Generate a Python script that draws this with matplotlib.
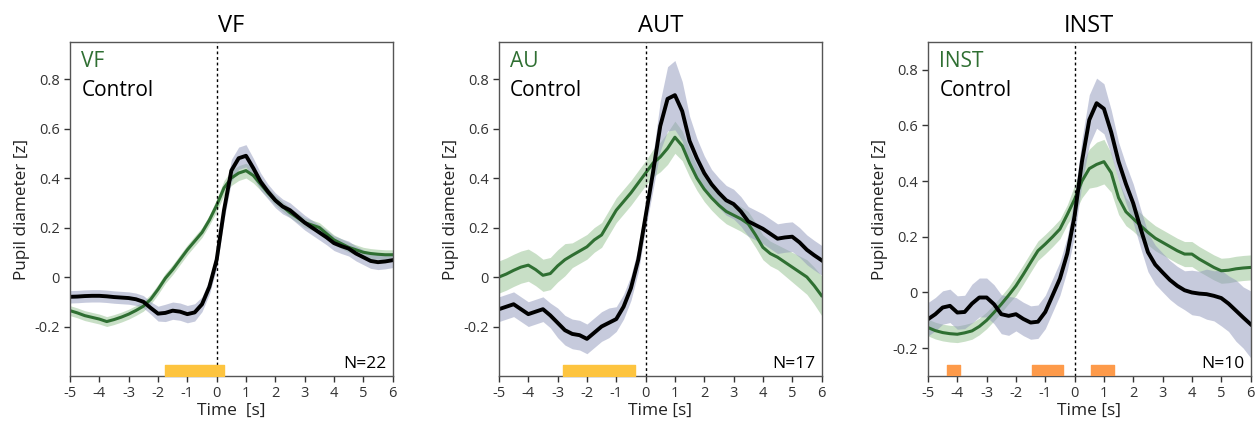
import numpy as np
import matplotlib
matplotlib.use("Agg")
import matplotlib.pyplot as plt

plt.rcParams['font.family'] = ['Open Sans', 'DejaVu Sans']

# time axis, 0.25 s steps
t = np.arange(-5, 6.001, 0.25)

# --- VF panel ---
vf_task = [-0.136, -0.145, -0.156, -0.163, -0.17, -0.18, -0.172, -0.162, -0.15, -0.135,
           -0.118, -0.09, -0.05, -0.005, 0.03, 0.07, 0.11, 0.145, 0.18, 0.23,
           0.29, 0.36, 0.40, 0.42, 0.43, 0.41, 0.375, 0.34, 0.31, 0.285,
           0.26, 0.24, 0.22, 0.21, 0.20, 0.175, 0.15, 0.135, 0.12, 0.11,
           0.10, 0.095, 0.092, 0.09, 0.09]
vf_ctrl = [-0.08, -0.079, -0.077, -0.076, -0.076, -0.078, -0.081, -0.083, -0.085, -0.09,
           -0.10, -0.125, -0.148, -0.145, -0.136, -0.14, -0.15, -0.143, -0.11, -0.04,
           0.07, 0.27, 0.43, 0.48, 0.49, 0.44, 0.385, 0.345, 0.31, 0.285,
           0.27, 0.245, 0.22, 0.20, 0.18, 0.16, 0.137, 0.125, 0.115, 0.095,
           0.08, 0.065, 0.06, 0.063, 0.068]
vf_task_sem = [0.02] * 20 + [0.025, 0.03, 0.03, 0.03, 0.03, 0.03, 0.025] + [0.02] * 18
vf_ctrl_sem = [0.025] * 12 + [0.03, 0.035, 0.035, 0.035, 0.035, 0.035, 0.03, 0.03,
                               0.035, 0.04, 0.045, 0.045, 0.045, 0.04, 0.035] + [0.03] * 18

# --- AUT panel ---
aut_task = [0.0, 0.012, 0.027, 0.04, 0.048, 0.03, 0.007, 0.014, 0.045, 0.07,
            0.088, 0.105, 0.122, 0.15, 0.17, 0.22, 0.27, 0.305, 0.34, 0.38,
            0.42, 0.46, 0.485, 0.52, 0.565, 0.53, 0.46, 0.40, 0.355, 0.32,
            0.29, 0.265, 0.25, 0.235, 0.215, 0.17, 0.12, 0.095, 0.08, 0.06,
            0.04, 0.02, 0.0, -0.035, -0.075]
aut_ctrl = [-0.13, -0.12, -0.11, -0.13, -0.15, -0.14, -0.13, -0.155, -0.185, -0.215,
            -0.23, -0.235, -0.25, -0.225, -0.20, -0.185, -0.17, -0.12, -0.045, 0.07,
            0.245, 0.42, 0.61, 0.72, 0.735, 0.67, 0.55, 0.48, 0.42, 0.375,
            0.34, 0.31, 0.295, 0.265, 0.225, 0.21, 0.195, 0.175, 0.155, 0.16,
            0.163, 0.14, 0.11, 0.088, 0.068]
aut_task_sem = [0.065] * 10 + [0.05] * 10 + [0.05, 0.055, 0.06, 0.065, 0.065, 0.06, 0.055] + \
               [0.05] * 12 + [0.055, 0.06, 0.065, 0.07, 0.075, 0.08]
aut_ctrl_sem = [0.05] * 8 + [0.06] * 8 + [0.05] * 4 + \
               [0.05, 0.07, 0.1, 0.13, 0.14, 0.12, 0.1, 0.08, 0.07] + [0.06] * 16

# --- INST panel ---
inst_task = [-0.126, -0.137, -0.144, -0.148, -0.15, -0.145, -0.138, -0.122, -0.10, -0.072,
             -0.042, -0.01, 0.024, 0.065, 0.108, 0.15, 0.174, 0.20, 0.228, 0.28,
             0.335, 0.40, 0.445, 0.46, 0.47, 0.43, 0.34, 0.29, 0.265, 0.24,
             0.216, 0.195, 0.18, 0.165, 0.15, 0.138, 0.138, 0.12, 0.105, 0.09,
             0.078, 0.08, 0.085, 0.088, 0.09]
inst_ctrl = [-0.096, -0.078, -0.054, -0.048, -0.072, -0.07, -0.04, -0.018, -0.018, -0.042,
             -0.078, -0.084, -0.078, -0.095, -0.108, -0.105, -0.07, -0.01, 0.05, 0.14,
             0.275, 0.47, 0.62, 0.68, 0.66, 0.575, 0.47, 0.39, 0.32, 0.23,
             0.145, 0.10, 0.072, 0.045, 0.024, 0.008, 0.0, -0.004, -0.006, -0.012,
             -0.02, -0.04, -0.065, -0.09, -0.114]
inst_task_sem = [0.03] * 12 + [0.035] * 8 + [0.05, 0.06, 0.07, 0.08, 0.08, 0.07, 0.06, 0.05] + \
                [0.045] * 17
inst_ctrl_sem = [0.06] * 6 + [0.07] * 6 + [0.06] * 8 + \
                [0.07, 0.08, 0.09, 0.09, 0.09, 0.08, 0.07, 0.07] + \
                [0.07] * 8 + [0.08, 0.08, 0.09, 0.09, 0.1, 0.1, 0.11, 0.11, 0.12]

panels = [
    ("VF", "VF", vf_task, vf_task_sem, vf_ctrl, vf_ctrl_sem, [(-1.75, 0.25)], "#fdc43f",
     "N=22", (-0.4, 0.95), "Time  [s]"),
    ("AUT", "AU", aut_task, aut_task_sem, aut_ctrl, aut_ctrl_sem, [(-2.8, -0.35)], "#fdc43f",
     "N=17", (-0.4, 0.95), "Time [s]"),
    ("INST", "INST", inst_task, inst_task_sem, inst_ctrl, inst_ctrl_sem,
     [(-4.35, -3.9), (-1.45, -0.4), (0.55, 1.35)], "#fd9a4a",
     "N=10", (-0.3, 0.9), "Time [s]"),
]

green = "#2f6f32"
fig = plt.figure(figsize=(12.6, 4.25), dpi=100)
lefts = [0.0556, 0.396, 0.7365]

for left, (title, tname, task, tsem, ctrl, csem, sig, sigcol, ntxt, ylim, xlab) in zip(lefts, panels):
    ax = fig.add_axes([left, 0.1153, 0.256, 0.786])
    task = np.array(task); tsem = np.array(tsem)
    ctrl = np.array(ctrl); csem = np.array(csem)

    ax.fill_between(t, task - tsem, task + tsem, color="#9cc597", alpha=0.55, lw=0)
    ax.fill_between(t, ctrl - csem, ctrl + csem, color="#8f96bb", alpha=0.5, lw=0)
    ax.plot(t, task, color=green, lw=2.2)
    ax.plot(t, ctrl, color="black", lw=2.8)
    ax.axvline(0, color="black", ls=(0, (2, 2)), lw=1)

    ax.broken_barh([(a, b - a) for a, b in sig], (ylim[0], 0.045 if ylim[0] < -0.35 else 0.04),
                   color=sigcol, zorder=3)

    ax.set_xlim(-5, 6)
    ax.set_ylim(*ylim)
    ax.set_xticks(range(-5, 7))
    ax.set_xticklabels([str(v) for v in range(-5, 7)])
    ax.set_yticks([-0.2, 0, 0.2, 0.4, 0.6, 0.8])
    ax.set_yticklabels(["-0.2", "0", "0.2", "0.4", "0.6", "0.8"])
    ax.tick_params(direction="out", length=4, width=1, colors="#333333", labelsize=10.5)
    for sp in ax.spines.values():
        sp.set_color("#555555")
        sp.set_linewidth(1)

    ax.set_title(title, fontsize=17, pad=7)
    ax.set_ylabel("Pupil diameter [z]", fontsize=12.3, color="#222222", labelpad=3)
    ax.set_xlabel(xlab, fontsize=12.5, color="#222222", labelpad=1)

    ax.text(0.035, 0.94, tname, color=green, fontsize=15, transform=ax.transAxes, va="center")
    ax.text(0.035, 0.855, "Control", color="black", fontsize=15, transform=ax.transAxes, va="center")
    ax.text(0.98, 0.035, ntxt, fontsize=12.5, transform=ax.transAxes, ha="right", va="center")

fig.savefig("out.png", dpi=100)
